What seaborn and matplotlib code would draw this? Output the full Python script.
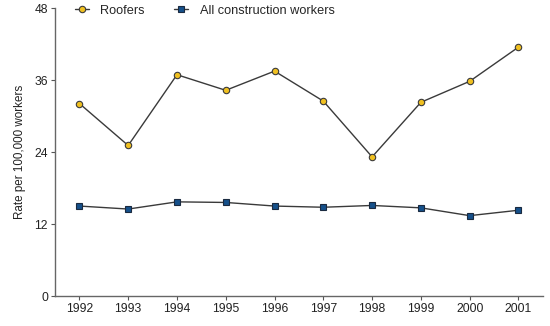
import matplotlib
matplotlib.use("Agg")
import matplotlib.pyplot as plt
import seaborn as sns
import pandas as pd

years = [1992, 1993, 1994, 1995, 1996, 1997, 1998, 1999, 2000, 2001]
roofers = [32.1, 25.1, 36.9, 34.3, 37.5, 32.5, 23.2, 32.3, 35.8, 41.5]
all_workers = [15.0, 14.5, 15.7, 15.6, 15.0, 14.8, 15.1, 14.7, 13.4, 14.3]
y_ticks = [0, 12, 24, 36, 48]
series_names = ["Roofers", "All construction workers"]

sns.set_style("ticks")
plt.rcParams["font.family"] = ["Liberation Sans", "DejaVu Sans"]

df = pd.DataFrame({
    "Year": years * 2,
    "Rate": roofers + all_workers,
    "Series": [series_names[0]] * len(years) + [series_names[1]] * len(years),
})

fig = plt.figure(figsize=(5.5, 3.26), dpi=100)
ax = fig.add_axes([0.1, 0.092, 0.887, 0.883])

sns.lineplot(data=df[df["Series"] == series_names[0]], x="Year", y="Rate",
             color="#3a3a3a", lw=1.0, marker="o", markersize=4.6,
             markerfacecolor="#f0c020", markeredgecolor="#3a3a3a",
             markeredgewidth=0.8, label=series_names[0], ax=ax)
sns.lineplot(data=df[df["Series"] == series_names[1]], x="Year", y="Rate",
             color="#3a3a3a", lw=1.0, marker="s", markersize=4.4,
             markerfacecolor="#15508a", markeredgecolor="#1a2a40",
             markeredgewidth=0.8, label=series_names[1], ax=ax)

ax.set_xlim(years[0] - 0.5, years[-1] + 0.5)
ax.set_ylim(0, 48)
ax.set_xticks(years)
ax.set_xticklabels([str(y) for y in years], fontsize=8.7, color="#222222")
ax.set_yticks(y_ticks)
ax.set_yticklabels([str(t) for t in y_ticks], fontsize=8.7, color="#222222")
ax.set_xlabel("")
ax.set_ylabel("Rate per 100,000 workers", fontsize=8.4, color="#222222", labelpad=6)
ax.tick_params(axis="both", length=3, width=0.8, color="#555555", pad=2)
for s in ["left", "bottom"]:
    ax.spines[s].set_color("#666666")
    ax.spines[s].set_linewidth(1.0)
sns.despine(ax=ax)

ax.legend(loc="upper left", bbox_to_anchor=(0.03, 1.03), ncol=2, frameon=False,
          fontsize=9.2, handlelength=1.1, handletextpad=0.9, columnspacing=2.3,
          borderaxespad=0)

fig.savefig("out.png", dpi=100)
